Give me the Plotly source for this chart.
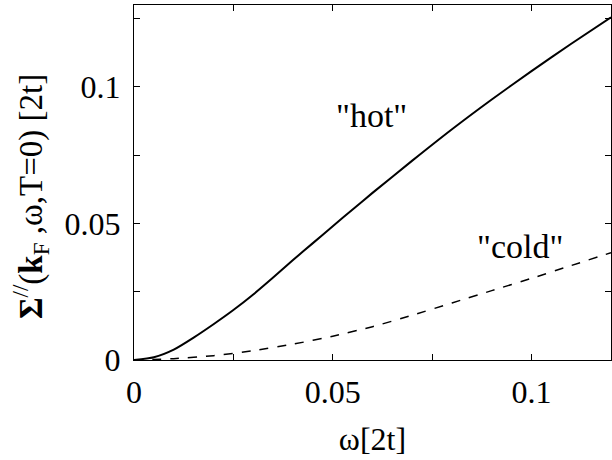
import plotly.graph_objects as go

omega_hot = [0, 0.005, 0.01, 0.015, 0.02, 0.025, 0.03, 0.035, 0.04, 0.045, 0.05,
             0.055, 0.06, 0.07, 0.08, 0.09, 0.10, 0.11, 0.12]
sigma_hot = [0, 0.0010, 0.0038, 0.0082, 0.0131, 0.0183, 0.0240, 0.0302, 0.0366, 0.0428, 0.0490,
             0.0551, 0.0612, 0.0730, 0.0845, 0.0954, 0.1058, 0.1158, 0.1255]

omega_cold = [0, 0.01, 0.02, 0.03, 0.04, 0.05, 0.06, 0.07, 0.08, 0.09, 0.10, 0.11, 0.12]
sigma_cold = [0, 0.0005, 0.0016, 0.0034, 0.0058, 0.0087, 0.0122, 0.0164, 0.0209, 0.0254, 0.0299, 0.0346, 0.0393]

x_ticks = [0, 0.05, 0.1]
x_ticklabels = ["0", "0.05", "0.1"]
y_ticks = [0, 0.05, 0.1]
y_ticklabels = ["0", "0.05", "0.1"]

font_family = "Liberation Serif"

fig = go.Figure()
fig.add_trace(go.Scatter(x=omega_hot, y=sigma_hot, mode="lines", line=dict(color="black", width=2, shape="spline", smoothing=0.6), showlegend=False))
fig.add_trace(go.Scatter(x=omega_cold, y=sigma_cold, mode="lines", line=dict(color="black", width=1.5, dash="dash", shape="spline", smoothing=0.6), showlegend=False))

axis_common = dict(showline=True, linecolor="black", linewidth=1, mirror="ticks", ticks="inside",
                   ticklen=6, tickcolor="black", showgrid=False, zeroline=False, automargin=False,
                   tickfont=dict(family=font_family, size=32, color="black"),
                   minor=dict(ticks="inside", ticklen=6, tickcolor="black", dtick=0.025, showgrid=False))

fig.update_xaxes(range=[0, 0.12], tickvals=x_ticks, ticktext=x_ticklabels, ticklabelstandoff=4,
                 title=dict(text="ω[2t]", font=dict(family=font_family, size=32, color="black"), standoff=18),
                 **axis_common)
fig.update_yaxes(range=[0, 0.13], tickvals=y_ticks, ticktext=y_ticklabels, ticklabelstandoff=6,
                 **axis_common)

fig.add_annotation(xref="paper", yref="paper", x=0, y=0.459, xshift=-104, textangle=-90,
                   xanchor="center", yanchor="middle",
                   text="<b>Σ</b><sup>//</sup>(<b>k</b><sub>F</sub> ,ω,T=0) [2t]", showarrow=False,
                   font=dict(family=font_family, size=33, color="black"))
fig.add_annotation(x=0.0597, y=0.0895, text='"hot"', showarrow=False,
                   font=dict(family=font_family, size=34, color="black"))
fig.add_annotation(x=0.0972, y=0.0416, text='"cold"', showarrow=False,
                   font=dict(family=font_family, size=34, color="black"))

fig.update_layout(width=612, height=460, margin=dict(l=134, r=1, t=5, b=100),
                  plot_bgcolor="white", paper_bgcolor="white")

fig.write_html("out.html", config={"displayModeBar": False},
               post_script="document.body.style.margin='0';document.body.style.overflow='hidden';")
